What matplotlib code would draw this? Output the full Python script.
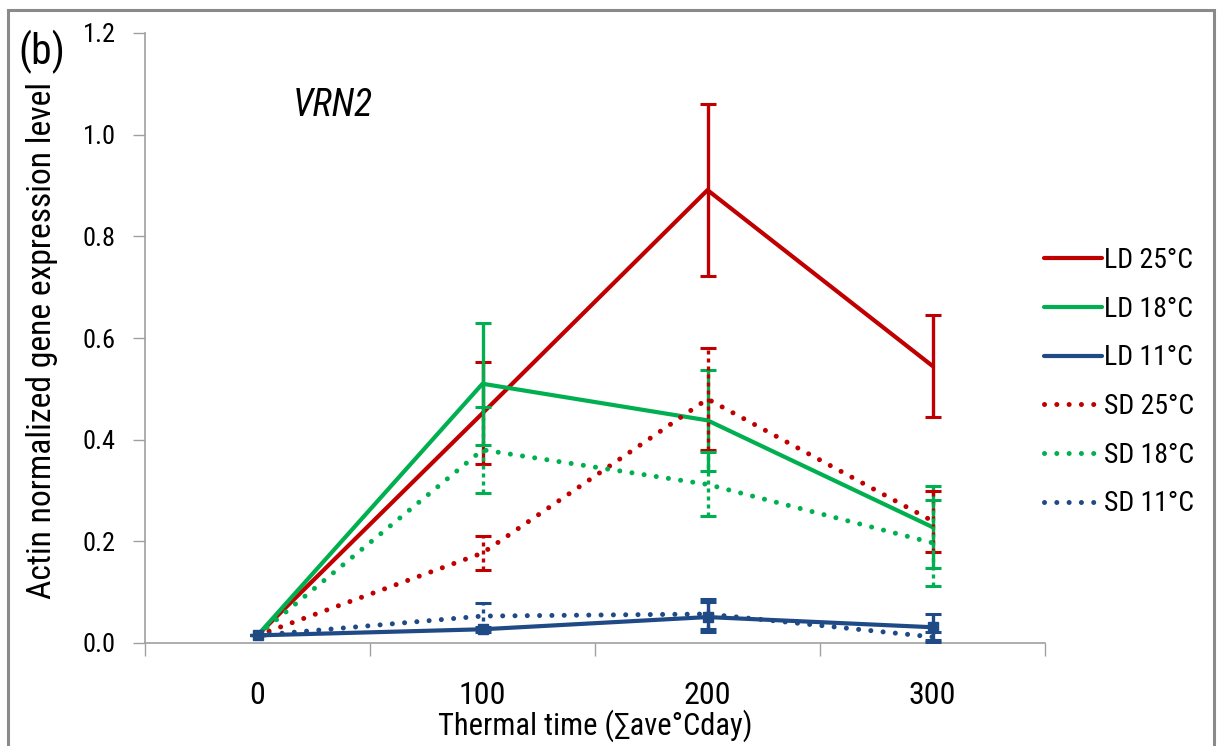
import matplotlib
matplotlib.use("Agg")
import matplotlib.pyplot as plt
from matplotlib.patches import Rectangle
from matplotlib.lines import Line2D
import matplotlib.font_manager as fm

names = {f.name for f in fm.fontManager.ttflist}
FONT = [n for n in ["Liberation Sans Narrow", "Roboto Condensed", "Liberation Sans", "DejaVu Sans"] if n in names]
plt.rcParams['font.family'] = FONT

categories = ["0", "100", "200", "300"]
series_names = ["LD 25°C", "LD 18°C", "LD 11°C", "SD 25°C", "SD 18°C", "SD 11°C"]
ld25 = [0.015, 0.452, 0.891, 0.545]
ld25_err = [0.0, 0.10, 0.17, 0.10]
ld18 = [0.015, 0.510, 0.438, 0.228]
ld18_err = [0.0, 0.12, 0.10, 0.08]
ld11 = [0.015, 0.027, 0.051, 0.031]
ld11_err = [0.0, 0.005, 0.03, 0.026]
sd25 = [0.015, 0.177, 0.480, 0.240]
sd25_err = [0.0, 0.033, 0.10, 0.06]
sd18 = [0.015, 0.380, 0.312, 0.197]
sd18_err = [0.0, 0.085, 0.063, 0.085]
sd11 = [0.015, 0.053, 0.057, 0.012]
sd11_err = [0.0, 0.025, 0.03, 0.01]
yticks = [0.0, 0.2, 0.4, 0.6, 0.8, 1.0, 1.2]

RED = "#C00000"
GREEN = "#00B050"
BLUE = "#1F4A86"

values = [ld25, ld18, ld11, sd25, sd18, sd11]
errors = [ld25_err, ld18_err, ld11_err, sd25_err, sd18_err, sd11_err]
colors = [RED, GREEN, BLUE, RED, GREEN, BLUE]
dotted = [False, False, False, True, True, True]

fig = plt.figure(figsize=(12.2, 7.46), dpi=100)
ax = fig.add_axes([145/1220, 1-643/746, 900/1220, 610/746])

x = list(range(len(categories)))
DOT = (0, (0.01, 2.45))
for name, v, e, c, d in zip(series_names, values, errors, colors, dotted):
    if d:
        ax.plot(x, v, color=c, lw=3.6, linestyle=DOT, dash_capstyle='round', zorder=3)
        eb = ax.errorbar(x, v, yerr=e, fmt='none', ecolor=c, elinewidth=2.4,
                         capsize=5.5, capthick=2.2, zorder=3)
        for lc in eb.lines[2]:
            lc.set_linestyle((0, (1.2, 1.2)))
    else:
        ax.plot(x, v, color=c, lw=3.0, solid_capstyle='round', zorder=3,
                marker='s' if name == "LD 11°C" else None, markersize=7)
        ax.errorbar(x, v, yerr=e, fmt='none', ecolor=c, elinewidth=2.4,
                    capsize=5.5, capthick=2.2, zorder=3)

ax.set_xlim(-0.5, 3.5)
ax.set_ylim(0, 1.2)
ax.set_yticks(yticks)
ax.set_yticklabels([f"{t:.1f}" for t in yticks])
ax.set_xticks(x)
ax.set_xticklabels(categories)
ax.set_xticks([i - 0.5 for i in range(len(categories) + 1)], minor=True)
ax.tick_params(axis='x', which='major', length=0, pad=27, labelsize=23)
ax.tick_params(axis='x', which='minor', length=9, width=1, color='#A0A0A0', direction='out')
ax.tick_params(axis='y', which='major', length=9, width=1, color='#A0A0A0', labelsize=19, pad=12)
for s in ['top', 'right']:
    ax.spines[s].set_visible(False)
for s in ['left', 'bottom']:
    ax.spines[s].set_color('#A0A0A0')
    ax.spines[s].set_linewidth(1.2)

ax.set_xlabel("Thermal time (∑ave°Cday)", fontsize=22, labelpad=0)
fig.text(42/1220, 1-340/746, "Actin normalized gene expression level", rotation=90,
         rotation_mode='anchor', fontsize=24.2, ha='center', va='center')
fig.text(42/1220, 1-52/746, "(b)", fontsize=30, ha='center', va='center')
ax.text(293/1220, 1-106/746, "VRN2", transform=fig.transFigure, fontsize=27,
        style='italic', ha='left', va='center')

handles = []
for name, c, d in zip(series_names, colors, dotted):
    if d:
        handles.append(Line2D([], [], color=c, lw=3.6, linestyle=DOT, dash_capstyle='round'))
    else:
        handles.append(Line2D([], [], color=c, lw=3.0, solid_capstyle='round'))
leg = fig.legend(handles, series_names, loc='upper left', bbox_to_anchor=(1033/1220, 1-236/746),
                 frameon=False, fontsize=20, handlelength=2.1, handletextpad=0.05,
                 labelspacing=0.78, borderaxespad=0)

fig.patches.append(Rectangle((8/1220, -0.05), 1206/1220, 1.05 - 10/746, transform=fig.transFigure,
                             fill=False, edgecolor='#8A8A8A', lw=2.2, zorder=0))

fig.savefig("out.png", dpi=100)
